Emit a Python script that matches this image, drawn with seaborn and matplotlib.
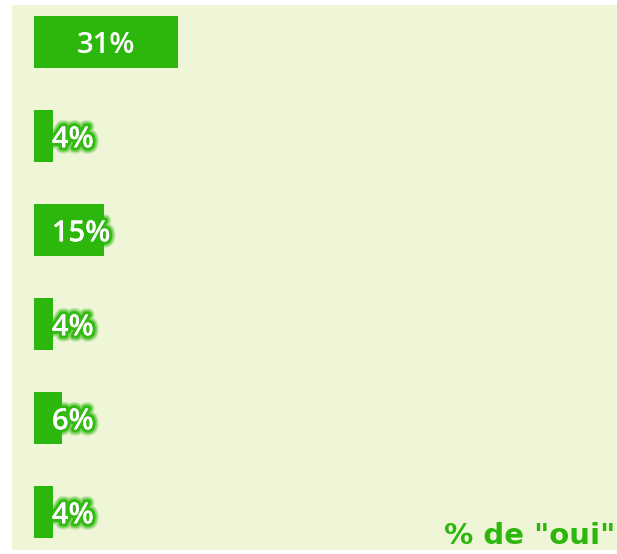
import matplotlib
matplotlib.use("Agg")
import matplotlib.pyplot as plt
import matplotlib.patheffects as pe
import seaborn as sns
import pandas as pd

# Share of "oui" answers per question
questions = ["Q1", "Q2", "Q3", "Q4", "Q5", "Q6"]
pct_yes = [31, 4, 15, 4, 6, 4]
value_labels = ["31%", "4%", "15%", "4%", "6%", "4%"]
axis_title = '% de "oui"'

GREEN = "#2cb70c"
PANEL = "#eff6d7"

sns.set_theme(style="white")
plt.rcParams["font.family"] = ["Open Sans", "DejaVu Sans"]

df = pd.DataFrame({"question": questions, "pct": pct_yes})

fig = plt.figure(figsize=(6.17, 5.54), dpi=100)
fig.patch.set_facecolor("white")
ax = fig.add_axes([12 / 617, 4 / 554, 605 / 617, 545 / 554])
ax.set_facecolor(PANEL)

sns.barplot(data=df, x="pct", y="question", orient="h", color=GREEN,
            saturation=1, width=0.553, linewidth=0, edgecolor=GREEN, ax=ax)

ax.set_xlim(-4.74, 125.5)
ax.set_ylim(5.404, -0.394)
for s in ax.spines.values():
    s.set_visible(False)
ax.set_xticks([])
ax.set_yticks([])
ax.set_xlabel("")
ax.set_ylabel("")

glow = [
    pe.withStroke(linewidth=9, foreground=GREEN, alpha=0.25),
    pe.withStroke(linewidth=7, foreground=GREEN, alpha=0.4),
    pe.withStroke(linewidth=4.5, foreground=GREEN, alpha=0.9),
    pe.Normal(),
]

# baseline sits a little below the bar centre so the digits look centred
base_shift = 0.12
for i, (v, lab) in enumerate(zip(pct_yes, value_labels)):
    if v >= 20:
        ax.text(v / 2, i + base_shift, lab, ha="center", va="baseline",
                color="white", fontsize=21, fontweight="semibold")
    else:
        ax.text(3.85, i + base_shift, lab, ha="left", va="baseline",
                color="white", fontsize=21, fontweight="semibold",
                path_effects=glow)

fig.text(615 / 617, 1 - 544 / 554, axis_title, ha="right", va="baseline",
         color=GREEN, fontsize=21, fontweight="bold", family="DejaVu Sans")

fig.savefig("out.png", dpi=100, facecolor="white")
